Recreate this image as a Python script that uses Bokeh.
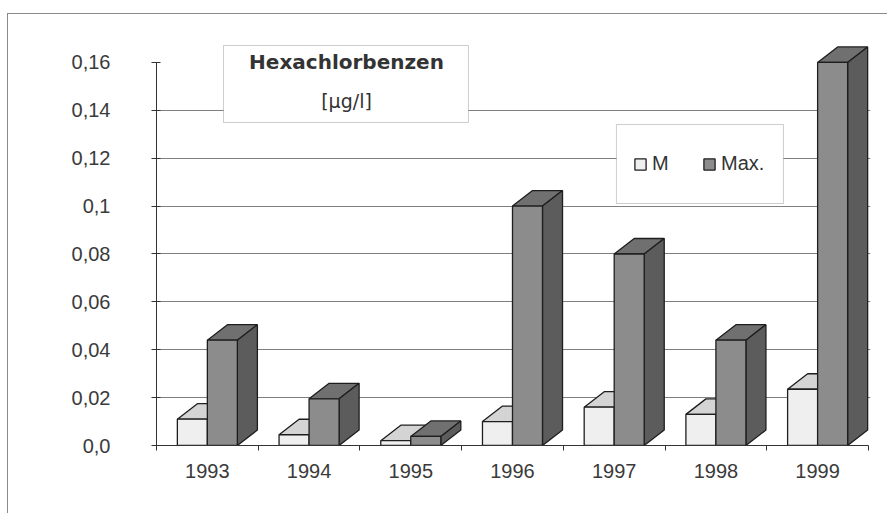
from bokeh.plotting import figure
from bokeh.models import (FixedTicker, Range1d, BoxAnnotation, Label, Legend,
                          LegendItem, ColumnDataSource)
from bokeh.embed import file_html
from bokeh.resources import INLINE

# ---- data ----
years = ["1993", "1994", "1995", "1996", "1997", "1998", "1999"]
m_vals = [0.011, 0.0045, 0.002, 0.010, 0.016, 0.013, 0.0235]
max_vals = [0.044, 0.0195, 0.0038, 0.100, 0.080, 0.044, 0.160]
y_ticks = [0.0, 0.02, 0.04, 0.06, 0.08, 0.1, 0.12, 0.14, 0.16]
y_tick_labels = ["0,0", "0,02", "0,04", "0,06", "0,08", "0,1", "0,12", "0,14", "0,16"]
grid_ticks = [0.02, 0.04, 0.06, 0.08, 0.1, 0.12, 0.14]
series_names = ["M", "Max."]
title_text = "Hexachlorbenzen"
unit_text = "[µg/l]"

# ---- style constants ----
BW = 0.295        # bar width (category units)
DX = 0.197        # 3D depth offset x (category units)
DY = 0.00647      # 3D depth offset y (value units)
EDGE = "#1e1e1e"
AX = "#333333"
FONT = "Liberation Sans"

n = len(years)
centers = [i + 0.5 for i in range(n)]

p = figure(width=880, height=500, x_range=Range1d(0, 7.02), y_range=Range1d(0, 0.16917),
           output_backend="svg", toolbar_location=None,
           min_border_left=148, min_border_right=18, min_border_top=26, min_border_bottom=69,
           margin=(14, 0, 0, 8))
p.styles = {"box-shadow": "-1px -1px 0 0 #8a8a8a"}
p.outline_line_color = None
p.background_fill_color = "white"
p.border_fill_color = "white"

# grid
p.xgrid.visible = False
p.ygrid.ticker = FixedTicker(ticks=grid_ticks)
p.ygrid.grid_line_color = "#7f7f7f"
p.ygrid.grid_line_width = 1

# x axis
xa = p.xaxis[0]
xa.ticker = FixedTicker(ticks=centers, minor_ticks=list(range(n + 1)))
xa.major_label_overrides = {c: y for c, y in zip(centers, years)}
xa.major_tick_line_color = None
xa.major_tick_in = 0
xa.major_tick_out = 0
xa.minor_tick_in = 0
xa.minor_tick_out = 5
xa.minor_tick_line_color = AX
xa.axis_line_color = AX
xa.bounds = (0, n)
xa.major_label_standoff = 13
xa.major_label_text_font = FONT
xa.major_label_text_font_size = "20px"
xa.major_label_text_color = "#3a3a3a"

# y axis
ya = p.yaxis[0]
ya.ticker = FixedTicker(ticks=y_ticks)
ya.major_label_overrides = {t: l for t, l in zip(y_ticks, y_tick_labels)}
ya.major_tick_in = 4
ya.major_tick_out = 5
ya.major_tick_line_color = AX
ya.minor_tick_line_color = None
ya.axis_line_color = AX
ya.bounds = (0, 0.16)
ya.major_label_standoff = 41
ya.major_label_text_font = FONT
ya.major_label_text_font_size = "20px"
ya.major_label_text_color = "#3a3a3a"


def bar3d(offset, vals, front, top, side):
    x0 = [c + offset for c in centers]
    x1 = [x + BW for x in x0]
    xc = [(a + b) / 2 for a, b in zip(x0, x1)]
    top_xs = [[a, b, b + DX, a + DX] for a, b in zip(x0, x1)]
    top_ys = [[h, h, h + DY, h + DY] for h in vals]
    side_xs = [[b, b + DX, b + DX, b] for b in x1]
    side_ys = [[0, DY, h + DY, h] for h in vals]
    p.patches(top_xs, top_ys, fill_color=top, line_color=EDGE, line_width=1.3)
    p.patches(side_xs, side_ys, fill_color=side, line_color=EDGE, line_width=1.3)
    src = ColumnDataSource(dict(x=xc, top=vals))
    return p.vbar(x="x", top="top", bottom=0, width=BW, source=src,
                  fill_color=front, line_color=EDGE, line_width=1.3)


r_m = bar3d(-BW, m_vals, "#efefef", "#d4d4d4", "#bdbdbd")
r_max = bar3d(0.0, max_vals, "#8c8c8c", "#707070", "#5c5c5c")

# title box
p.add_layout(BoxAnnotation(left=0.659, right=3.067, top=0.16708, bottom=0.13492,
                           fill_color="white", fill_alpha=1.0,
                           line_color="#5a5a5a", line_width=1))
p.add_layout(Label(x=1.868, y=0.1600, text=title_text, text_align="center",
                   text_baseline="middle", text_font="DejaVu Sans", text_font_style="bold",
                   text_font_size="20px", text_color="#333333"))
p.add_layout(Label(x=1.868, y=0.1440, text=unit_text, text_align="center",
                   text_baseline="middle", text_font="DejaVu Sans",
                   text_font_size="19px", text_color="#333333"))

# legend box
p.add_layout(BoxAnnotation(left=4.522, right=6.164, top=0.13409, bottom=0.10109,
                           fill_color="white", fill_alpha=1.0,
                           line_color="#5a5a5a", line_width=1))
legend = Legend(items=[LegendItem(label=series_names[0], renderers=[r_m]),
                       LegendItem(label=series_names[1], renderers=[r_max])],
                orientation="horizontal", location=(477, 270), padding=0, margin=0,
                spacing=30, label_standoff=5, glyph_width=14, glyph_height=14,
                label_text_font=FONT, label_text_font_size="20px",
                label_text_color="#333333",
                border_line_color=None, background_fill_alpha=0)
p.add_layout(legend)

open("out.html", "w").write(file_html(p, INLINE))
